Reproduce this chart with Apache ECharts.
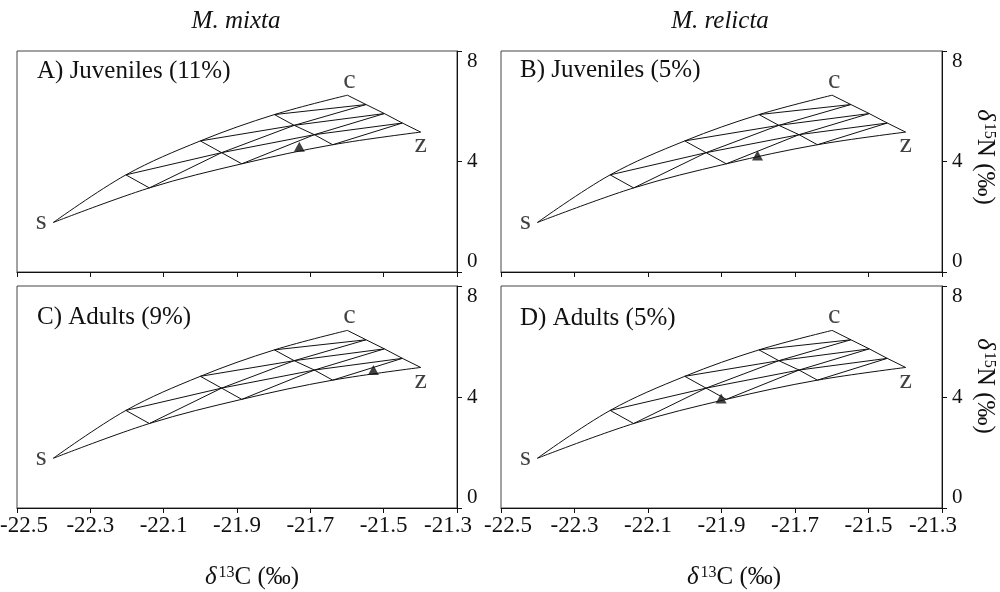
<!DOCTYPE html>
<html>
<head>
<meta charset="utf-8">
<script src="https://cdn.jsdelivr.net/npm/echarts@6/dist/echarts.min.js"></script>
<style>
html,body{margin:0;padding:0;background:#fff;}
#chart{width:1000px;height:592px;}
</style>
</head>
<body>
<div id="chart"></div>
<script>
// ---- data ----
const speciesNames = ['M. mixta', 'M. relicta'];
const panelTitles = ['A) Juveniles (11%)', 'B) Juveniles (5%)', 'C) Adults (9%)', 'D) Adults (5%)'];
// source end-members (δ13C, δ15N)
const sourceS = [-22.401, 1.793];
// mixing-grid vertices, rows of constant s fraction (0.75, 0.50, 0.25, 0), ordered from c-rich to z-rich
const rowS75 = [[-22.203, 3.516], [-22.139, 3.044]];
const rowS50 = [[-22.000, 4.745], [-21.942, 4.320], [-21.887, 3.916]];
const rowS25 = [[-21.798, 5.698], [-21.744, 5.309], [-21.689, 4.971], [-21.639, 4.607]];
const rowS0  = [[-21.599, 6.400], [-21.548, 6.062], [-21.498, 5.735], [-21.449, 5.393], [-21.399, 5.065]];
// consumer means (triangles), panels A-D
const consumerX = [-21.730, -21.802, -21.528, -21.901];
const consumerY = [4.53, 4.22, 4.97, 3.95];
// axes
const xMin = -22.5, xMax = -21.3, xStep = 0.2;
const yMin = 0, yMax = 8, yStep = 4;

// ---- build grid lines ----
const rows = [rowS75, rowS50, rowS25, rowS0];
const gridLines = [];
rows.forEach(r => gridLines.push({pts: r, edge: false}));
for (let j = 0; j < 4; j++) {
  // constant z fraction j/4
  const lz = [];
  if (j === 0) lz.push(sourceS);
  rows.forEach(r => { if (r.length > j) lz.push(r[j]); });
  gridLines.push({pts: lz, edge: j === 0});
  // constant c fraction j/4
  const lc = [];
  if (j === 0) lc.push(sourceS);
  rows.forEach(r => { if (r.length > j) lc.push(r[r.length - 1 - j]); });
  gridLines.push({pts: lc, edge: j === 0});
}

const serif = 'Liberation Serif';
const ink = '#111';
const panels = [
  {left: 17,  top: 51,  width: 440, height: 221, bottomLabels: false},
  {left: 501, top: 51,  width: 441, height: 221, bottomLabels: false},
  {left: 17,  top: 286, width: 440, height: 222, bottomLabels: true},
  {left: 501, top: 286, width: 441, height: 222, bottomLabels: true}
];

const grid = [], xAxis = [], yAxis = [], series = [];
panels.forEach((p, i) => {
  grid.push({left: p.left, top: p.top, width: p.width, height: p.height,
    show: true, borderColor: '#444', borderWidth: 1, backgroundColor: 'transparent',
    containLabel: false, outerBoundsMode: 'none'});
  xAxis.push({type: 'value', gridIndex: i, min: xMin, max: xMax, interval: xStep,
    axisLine: {show: true, onZero: false, lineStyle: {color: ink, width: 1}},
    axisTick: {show: true, inside: false, length: 5, lineStyle: {color: ink}},
    splitLine: {show: false},
    axisLabel: {show: p.bottomLabels, color: ink, fontFamily: serif, fontSize: 23, margin: 6,
      formatter: v => {
        const t = v.toFixed(1);
        if (Math.abs(v - xMin) < 1e-6) return '{lo|' + t + '}';
        if (Math.abs(v - xMax) < 1e-6) return '{hi|' + t + '}';
        return t;
      },
      rich: {
        lo: {fontFamily: serif, fontSize: 23, color: ink, padding: [0, 0, 0, 14]},
        hi: {fontFamily: serif, fontSize: 23, color: ink, padding: [0, 18, 0, 0]}
      }}
  });
  yAxis.push({type: 'value', gridIndex: i, position: 'right', min: yMin, max: yMax, interval: yStep,
    axisLine: {show: true, onZero: false, lineStyle: {color: ink, width: 1}},
    axisTick: {show: true, inside: false, length: 5, lineStyle: {color: ink}},
    splitLine: {show: false},
    axisLabel: {show: true, color: ink, fontFamily: serif, fontSize: 21, margin: 10,
      verticalAlignMaxLabel: 'top', verticalAlignMinLabel: 'bottom'}
  });
  gridLines.forEach(l => {
    series.push({type: 'line', xAxisIndex: i, yAxisIndex: i, data: l.pts,
      symbol: 'none', smooth: l.edge ? 0.35 : false, silent: true,
      lineStyle: {color: ink, width: 1}, z: 2});
  });
  series.push({type: 'scatter', xAxisIndex: i, yAxisIndex: i, symbolSize: 0, silent: true,
    data: [
      {value: sourceS, name: 's', label: {offset: [-12, -1]}},
      {value: rowS0[0], name: 'c', label: {offset: [2, -15]}},
      {value: rowS0[rowS0.length - 1], name: 'z', label: {offset: [0, 13]}}
    ],
    label: {show: true, position: 'inside', formatter: '{b}', color: ink,
      fontFamily: serif, fontSize: 28, align: 'center', verticalAlign: 'middle'}
  });
  series.push({type: 'scatter', xAxisIndex: i, yAxisIndex: i, symbol: 'triangle',
    symbolSize: [11, 10], silent: true, itemStyle: {color: ink},
    data: [[consumerX[i], consumerY[i]]], z: 5});
});

const graphic = [];
const titlePos = [[37, 71.5], [520, 70.5], [37, 317], [520, 318.5]];
panelTitles.forEach((t, i) => {
  graphic.push({type: 'text', x: titlePos[i][0], y: titlePos[i][1],
    style: {text: t, fontFamily: serif, fontSize: 25, fill: ink, align: 'left', verticalAlign: 'middle'}});
});
const speciesX = [236, 720];
speciesNames.forEach((s, i) => {
  graphic.push({type: 'text', x: speciesX[i], y: 21,
    style: {text: s, fontFamily: serif, fontSize: 25, fontStyle: 'italic', fill: ink,
      align: 'center', verticalAlign: 'middle'}});
});
const richAxis = {
  d: {fontFamily: serif, fontSize: 25, fontStyle: 'italic', fill: ink, padding: [0, 2, 0, 0]},
  s: {fontFamily: serif, fontSize: 16, fill: ink, verticalAlign: 'top'},
  n: {fontFamily: serif, fontSize: 25, fill: ink}
};
[252, 734].forEach(cx => {
  graphic.push({type: 'text', x: cx, y: 577,
    style: {text: '{d|δ}{s|13}{n|C (‰)}', rich: richAxis, fontFamily: serif, fontSize: 25,
      fill: ink, align: 'center', verticalAlign: 'middle'}});
});
[157, 386].forEach(cy => {
  graphic.push({type: 'text', x: 985, y: cy, rotation: -Math.PI / 2,
    style: {text: '{d|δ}{s|15}{n|N (‰)}', rich: richAxis, fontFamily: serif, fontSize: 25,
      fill: ink, align: 'center', verticalAlign: 'middle'}});
});

const chart = echarts.init(document.getElementById('chart'), null, {renderer: 'canvas'});
chart.setOption({
  animation: false,
  backgroundColor: '#fff',
  grid, xAxis, yAxis, series, graphic
});
</script>
</body>
</html>
